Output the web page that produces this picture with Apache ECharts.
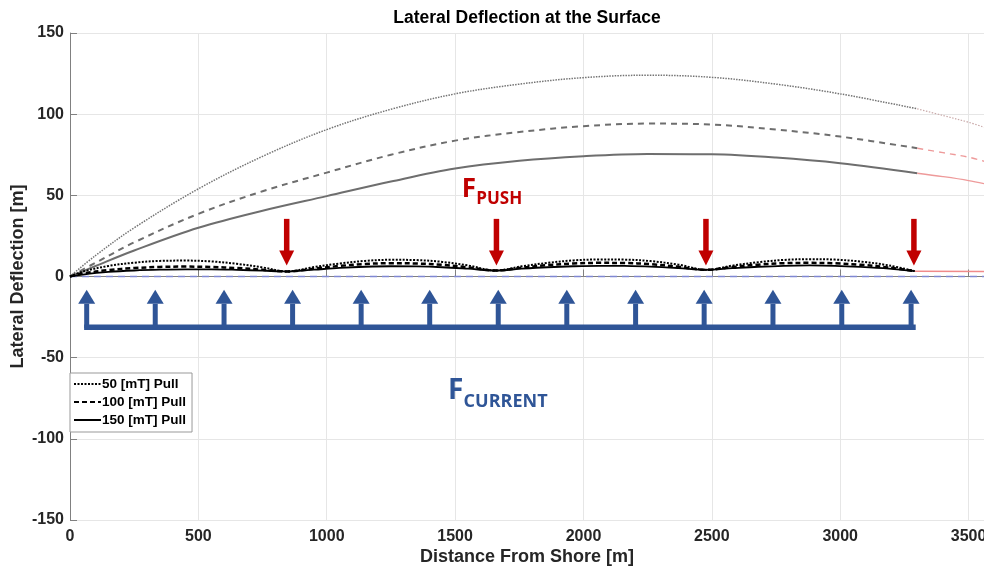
<!DOCTYPE html>
<html>
<head>
<meta charset="utf-8">
<script src="https://cdn.jsdelivr.net/npm/echarts@6/dist/echarts.min.js"></script>
<style>html,body{margin:0;padding:0;background:#fff}#c{width:984px;height:569px}</style>
</head>
<body>
<div id="c"></div>
<script>
// ---------- data ----------
const xUpper = [0, 100, 250, 500, 750, 1000, 1250, 1500, 1750, 2000, 2250, 2500, 2750, 3000, 3300];
const dotted50Upper  = [0, 13, 30, 54, 74, 90.5, 103, 112.5, 118.5, 122.5, 124, 122.7, 118.5, 112.5, 103.3];
const dashed100Upper = [0, 8.5, 21, 38.6, 52.5, 64, 75, 83.7, 89, 92.6, 94.2, 93.6, 90.5, 86.2, 79];
const solid150Upper  = [0, 6.5, 16, 30, 40.5, 49.5, 58.5, 66.5, 71.3, 74.1, 75.5, 75.3, 73.3, 69.8, 63.6];

const xUpperExt = [3300, 3400, 3500, 3560];
const dotted50UpperExt  = [103.3, 99.2, 95, 92];
const dashed100UpperExt = [79, 76.3, 73.5, 71];
const solid150UpperExt  = [63.6, 61.5, 59.1, 57.2];

const xLower = [0, 50, 150, 250, 350, 450, 550, 650, 750, 845,
                950, 1050, 1150, 1250, 1350, 1450, 1550, 1659,
                1760, 1860, 1960, 2060, 2160, 2260, 2370, 2477,
                2580, 2680, 2780, 2880, 2980, 3080, 3190, 3290];
const dotted50Lower  = [0, 3, 6.5, 8.5, 9.6, 9.8, 9.3, 7.8, 5.6, 3.1,
                        5.8, 8, 9.6, 10.3, 10.1, 9, 6.8, 3.7,
                        6.3, 8.4, 9.9, 10.5, 10.4, 9.5, 7.3, 4.1,
                        6.7, 8.8, 10.2, 10.7, 10.4, 9.2, 6.8, 3.3];
const dashed100Lower = [0, 1.8, 4, 5.2, 5.9, 6.1, 5.9, 5.2, 4.2, 3.1,
                        4.8, 6.5, 7.7, 8.2, 8, 7.2, 5.6, 3.7,
                        5.4, 7, 8, 8.4, 8.3, 7.6, 6, 4.1,
                        5.8, 7.3, 8.2, 8.4, 8.1, 7.2, 5.5, 3.3];
const solid150Lower  = [0, 1.2, 2.8, 3.7, 4.2, 4.4, 4.4, 4.1, 3.6, 3.1,
                        4.2, 5.3, 6, 6.3, 6.2, 5.7, 4.8, 3.7,
                        4.8, 5.7, 6.3, 6.6, 6.5, 6.1, 5.2, 4.1,
                        5.1, 6, 6.6, 6.8, 6.6, 5.9, 4.8, 3.3];
const xLowerExt = [3290, 3560];
const lowerExt  = [3.3, 3.1];

const zeroLineX = [0, 3560];
const zeroLineY = [0, 0];

const pushArrowX = [844, 1661, 2477, 3287];
const pushArrowFrom = 35.5, pushArrowTo = 6.8;
const currentArrowX = [65, 332, 600, 867, 1134, 1401, 1668, 1935, 2203, 2470, 2738, 3006, 3276];
const currentArrowFrom = -31.2, currentArrowTo = -8.2;
const currentBarX = [55, 3294];
const currentBarY = [-31.2, -31.2];

const seriesNames = ['50 [mT] Pull', '100 [mT] Pull', '150 [mT] Pull'];
const xTicks = {min: 0, max: 3560, interval: 500};
const yTicks = {min: -150, max: 150, interval: 50};
const titleText = 'Lateral Deflection at the Surface';
const xName = 'Distance From Shore [m]';
const yName = 'Lateral Deflection [m]';
const pushLabel = {x: 1526, y: 45.6, main: 'F', sub: 'PUSH'};
const currentLabel = {x: 1472, y: -79.4, main: 'F', sub: 'CURRENT'};

// ---------- helpers ----------
const pts = (xs, ys) => xs.map((x, i) => [x, ys[i]]);
const RED = '#C00000', BLUE = '#2F5597';
const FONT = '"Liberation Sans", Arial, sans-serif';
const ANNOT_FONT = '"Open Sans", "Noto Sans", sans-serif';

function line(name, xs, ys, color, width, type, z, smooth) {
  return {
    type: 'line', name: name, data: pts(xs, ys), symbol: 'none', showSymbol: false,
    smooth: smooth === undefined ? 0.35 : smooth, silent: true, z: z || 2,
    lineStyle: {color: color, width: width, type: type},
    itemStyle: {color: color}, animation: false
  };
}

function arrowSeries(xs, from, to, color, shaftW, headW, headL) {
  return {
    type: 'custom', silent: true, z: 10, animation: false,
    data: xs.map(x => [x, from, to]),
    renderItem: function (params, api) {
      const p1 = api.coord([api.value(0), api.value(1)]);
      const p2 = api.coord([api.value(0), api.value(2)]);
      const d = p2[1] > p1[1] ? 1 : -1;
      const baseY = p2[1] - d * headL;
      const top = Math.min(p1[1], baseY), h = Math.abs(baseY - p1[1]);
      return {
        type: 'group',
        children: [
          {type: 'rect', shape: {x: p1[0] - shaftW / 2, y: top, width: shaftW, height: h + 1}, style: {fill: color}},
          {type: 'polygon', shape: {points: [[p2[0], p2[1]], [p2[0] - headW / 2, baseY], [p2[0] + headW / 2, baseY]]}, style: {fill: color}}
        ]
      };
    }
  };
}

function textLabel(lbl, color, fMain, fSub, subDrop) {
  return {
    type: 'custom', silent: true, z: 11, animation: false,
    data: [[lbl.x, lbl.y]],
    renderItem: function (params, api) {
      const p = api.coord([api.value(0), api.value(1)]);
      return {
        type: 'group',
        children: [
          {type: 'text', x: p[0], y: p[1], style: {
            text: lbl.main, fill: color, font: 'bold ' + fMain + 'px ' + ANNOT_FONT,
            align: 'left', verticalAlign: 'bottom'}},
          {type: 'text', x: p[0] + fMain * 0.56, y: p[1] + subDrop, style: {
            text: lbl.sub, fill: color, font: 'bold ' + fSub + 'px ' + ANNOT_FONT,
            align: 'left', verticalAlign: 'bottom'}}
        ]
      };
    }
  };
}

const chart = echarts.init(document.getElementById('c'), null, {renderer: 'canvas'});
const option = {
  backgroundColor: '#ffffff',
  animation: false,
  title: {
    text: titleText, left: 522, top: 4, textAlign: 'center',
    textStyle: {fontFamily: FONT, fontWeight: 'bold', fontSize: 17.5, color: '#000'}
  },
  grid: {left: 70, right: 0, top: 33, bottom: 49, containLabel: false, outerBoundsMode: 'none'},
  legend: {
    data: seriesNames, orient: 'vertical', left: 70, top: 373,
    itemWidth: 27, itemHeight: 14, itemGap: 4,
    padding: [4, 6, 5, 3], borderColor: '#999', borderWidth: 1, backgroundColor: '#fff',
    itemStyle: {opacity: 0},
    textStyle: {fontFamily: FONT, fontWeight: 'bold', fontSize: 13.5, color: '#000', padding: [0, 0, 0, -4]},
    selectedMode: false, z: 20
  },
  xAxis: {
    type: 'value', min: xTicks.min, max: xTicks.max, interval: xTicks.interval,
    name: xName, nameLocation: 'middle', nameGap: 28, nameMoveOverlap: false,
    nameTextStyle: {fontFamily: FONT, fontWeight: 'bold', fontSize: 18, color: '#262626'},
    axisLine: {show: true, lineStyle: {color: '#808080', width: 1}},
    axisTick: {show: true, inside: true, length: 7, lineStyle: {color: '#808080'}},
    axisLabel: {fontFamily: FONT, fontWeight: 'bold', fontSize: 16, color: '#262626', margin: 9,
                showMaxLabel: false, formatter: v => String(v)},
    splitLine: {show: true, lineStyle: {color: '#e6e6e6', width: 1}}
  },
  yAxis: {
    type: 'value', min: yTicks.min, max: yTicks.max, interval: yTicks.interval,
    name: yName, nameLocation: 'middle', nameGap: 43, nameRotate: 90, nameMoveOverlap: false,
    nameTextStyle: {fontFamily: FONT, fontWeight: 'bold', fontSize: 18, color: '#262626'},
    axisLine: {show: true, lineStyle: {color: '#808080', width: 1}},
    axisTick: {show: true, inside: true, length: 7, lineStyle: {color: '#808080'}},
    axisLabel: {fontFamily: FONT, fontWeight: 'bold', fontSize: 16, color: '#262626', margin: 6,
                formatter: v => String(v)},
    splitLine: {show: true, lineStyle: {color: '#e6e6e6', width: 1}}
  },
  series: [
    line('zero', zeroLineX, zeroLineY, '#8088d2', 1.5, [7, 5], 3, false),
    line('u50', xUpper, dotted50Upper, '#747474', 1.5, [1.5, 1.2], 2),
    line('u100', xUpper, dashed100Upper, '#6e6e6e', 2, [6, 5], 2),
    line('u150', xUpper, solid150Upper, '#6e6e6e', 2, 'solid', 2),
    line('u50e', xUpperExt, dotted50UpperExt, '#c9a9a9', 1.2, [1.5, 1.5], 2),
    line('u100e', xUpperExt, dashed100UpperExt, '#ee9a9a', 1.4, [6, 5], 2),
    line('u150e', xUpperExt, solid150UpperExt, '#ee9a9a', 1.3, 'solid', 2),
    line('lext', xLowerExt, lowerExt, '#f08a8a', 1.5, 'solid', 2, false),
    line(seriesNames[0], xLower, dotted50Lower, '#000000', 2, [2, 1.5], 4),
    line(seriesNames[1], xLower, dashed100Lower, '#000000', 2.5, [5, 3], 4),
    line(seriesNames[2], xLower, solid150Lower, '#000000', 1.8, 'solid', 4),
    {
      type: 'line', name: 'bar', data: pts(currentBarX, currentBarY), symbol: 'none', silent: true, z: 9,
      lineStyle: {color: BLUE, width: 5.5, cap: 'butt'}, animation: false
    },
    arrowSeries(currentArrowX, currentArrowFrom, currentArrowTo, BLUE, 5, 17, 14),
    arrowSeries(pushArrowX, pushArrowFrom, pushArrowTo, RED, 5.5, 15, 15),
    textLabel(pushLabel, RED, 26, 17, 5),
    textLabel(currentLabel, BLUE, 28, 18, 5)
  ]
};
chart.setOption(option);
</script>
</body>
</html>
